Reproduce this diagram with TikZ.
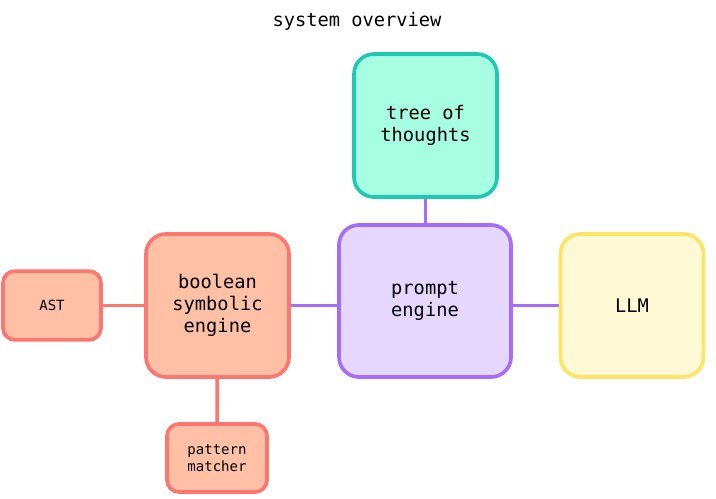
\documentclass[tikz,border=0pt]{standalone}
\usepackage{fontspec}
\setmonofont{DejaVu Sans Mono}
\usetikzlibrary{positioning}
\definecolor{tealline}{HTML}{1FC8B4}
\definecolor{tealfill}{HTML}{A6FFE0}
\definecolor{purpleline}{HTML}{A66BFF}
\definecolor{purplefill}{HTML}{E5D7FF}
\definecolor{yellowline}{HTML}{FFE566}
\definecolor{yellowfill}{HTML}{FFF9D5}
\definecolor{redline}{HTML}{FF7570}
\definecolor{redfill}{HTML}{FFC0A5}
\tikzset{
    bigbox/.style={rectangle,rounded corners=0.5cm,line width=2.6pt,align=center,
        minimum width=3.575cm,minimum height=3.575cm,font=\ttfamily\fontsize{13.3}{15.8}\selectfont},
    smallbox/.style={rectangle,rounded corners=0.3cm,line width=2.6pt,align=center,
        minimum width=2.45cm,minimum height=1.72cm,font=\ttfamily\fontsize{10}{12.5}\selectfont},
    tealbox/.style={draw=tealline,fill=tealfill},
    purplebox/.style={draw=purpleline,fill=purplefill},
    yellowbox/.style={draw=yellowline,fill=yellowfill},
    redbox/.style={draw=redline,fill=redfill},
    myedge/.style={line width=2.6pt}
}
\begin{document}
\begin{tikzpicture}[x=0.025cm,y=-0.025cm]
  \useasboundingbox (0,0) rectangle (716,499);
  \node[font=\ttfamily\fontsize{13.3}{15.8}\selectfont] (title) at (357,21) {system overview};
  \node[bigbox,tealbox] (tot) at (425.5,125.5) {tree of\\thoughts};
  \node[bigbox,purplebox,minimum width=4.3cm,minimum height=3.8cm] (prompt) at (425,301) {prompt\\engine};
  \node[bigbox,yellowbox] (llm) at (632,305.5) {LLM};
  \node[bigbox,redbox] (bool) at (217.5,305.5) {boolean\\symbolic\\engine};
  \node[smallbox,redbox] (ast) at (52,305.5) {AST};
  \node[smallbox,redbox,minimum width=2.5cm,minimum height=1.7cm] (pat) at (217,458) {pattern\\matcher};
  \draw[myedge,redline] (ast) -- (bool);
  \draw[myedge,redline] (bool) -- (pat);
  \draw[myedge,purpleline] (bool.east) -- (bool.east -| prompt.west);
  \draw[myedge,purpleline] (tot) -- (tot |- prompt.north);
  \draw[myedge,purpleline] (prompt.east |- llm.west) -- (llm.west);
\end{tikzpicture}
\end{document}
